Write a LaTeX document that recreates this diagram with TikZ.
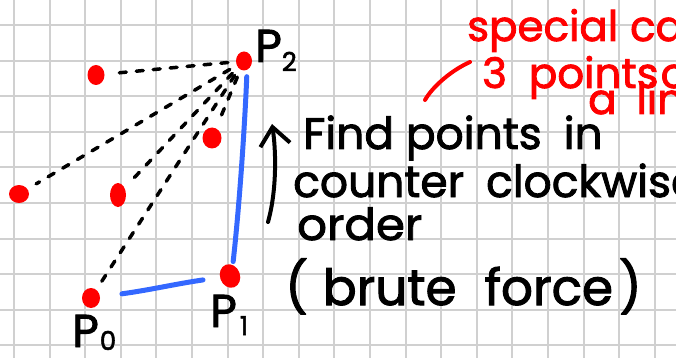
\documentclass[tikz,border=0pt]{standalone}
\usepackage{fontspec}
\setmainfont{Poppins}[FakeBold=2]
\usetikzlibrary{shapes.geometric,arrows.meta}
\definecolor{gridc}{RGB}{208,208,208}
\definecolor{penred}{RGB}{255,0,0}
\definecolor{penblue}{RGB}{52,104,255}
\tikzset{
  gridln/.style={draw=gridc,line width=2pt},
  dotnode/.style={ellipse,fill=penred,inner sep=0pt},
  dashln/.style={black,line width=3.5pt,line cap=round,dash pattern=on 7pt off 10pt,shorten <=8pt,shorten >=10pt},
  blueln/.style={penblue,line width=5pt,line cap=round},
  blk/.style={inner sep=0pt,anchor=base west,text=black,font=\fontsize{44}{44}\selectfont},
  redtxt/.style={inner sep=0pt,anchor=base west,text=penred,font=\fontsize{42}{42}\selectfont},
  plabel/.style={inner sep=0pt,anchor=base west,text=black,font=\fontsize{46}{46}\selectfont},
}
\newcommand{\subsc}[2]{\raisebox{-#2pt}{\fontsize{26}{26}\selectfont #1}}
\begin{document}
\begin{tikzpicture}[x=1pt,y=-1pt]
\useasboundingbox (0,0) rectangle (676,358);
\clip (0,0) rectangle (676,358);
\fill[white] (0,0) rectangle (676,358);
% grid
\foreach \k in {0,...,18} {\draw[gridln] ({14+35.6*\k},0) -- ({14+35.6*\k},358);}
\foreach \k in {0,...,9} {\draw[gridln] (0,{25+35.6*\k}) -- (676,{25+35.6*\k});}
% dots
\node[dotnode,minimum width=16pt,minimum height=19pt] (p2) at (244,61) {};
\node[dotnode,minimum width=17pt,minimum height=20pt] (dA) at (96,75) {};
\node[dotnode,minimum width=19pt,minimum height=21pt] (dB) at (212,138) {};
\node[dotnode,minimum width=20pt,minimum height=18pt] (dC) at (19,194) {};
\node[dotnode,minimum width=16pt,minimum height=24pt] (dD) at (118,195) {};
\node[dotnode,minimum width=18pt,minimum height=20pt] (p0) at (91,298) {};
\node[dotnode,minimum width=20pt,minimum height=24pt,rotate=20] (p1) at (230,276) {};
% dashed lines
\draw[dashln] (p2) -- (dA);
\draw[dashln] (p2) -- (dC);
\draw[dashln] (p2) -- (dD);
\draw[dashln] (p2) -- (dB);
\draw[dashln] (p2) -- (p0);
% blue lines
\draw[blueln,shorten <=22pt,shorten >=17pt] (p0) .. controls (150,290) and (175,284) .. (p1);
\draw[blueln,shorten <=3pt,shorten >=6pt] ([xshift=7pt]p1.north) .. controls (240,200) and (245,120) .. ([xshift=3pt]p2.south);
% labels
\node[plabel] (lp2) at (255,62) {P\subsc{2}{9}};
\node[plabel] (lp1) at (210,327) {P\hspace{3pt}\subsc{1}{8}};
\node[plabel] (lp0) at (72,347) {P\hspace{1pt}\subsc{0}{3}};
% arrow
\coordinate (arrS) at (268,222);
\coordinate (arrT) at (272,124);
\draw[black,line width=4pt,line cap=round,-{Straight Barb[length=18pt,width=30pt,line width=4pt]}] (arrS) .. controls (277,190) and (276,150) .. (arrT);
% black text
\node[blk] (t1) at (303,149) {Find points\hspace{22pt}in};
\node[blk] (t2) at (293,197) {counter\hspace{22pt}clockwise};
\node[blk,xscale=1.06] (t3) at (297,240) {order};
\node[blk,font=\fontsize{50}{50}\selectfont] (t4) at (285,305) {(\hspace{15pt}brute\hspace{28pt}force\hspace{6pt})};
% red text
\node[redtxt] (r1) at (467,41) {special\hspace{12pt}case};
\node[redtxt] (r2) at (482,88) {3\hspace{22pt}points\hspace{2pt}on};
\node[redtxt] (r3) at (588,114) {a\hspace{20pt}line};
\coordinate (rA) at (425,100);
\coordinate (rB) at (470,62);
\draw[penred,line width=4pt,line cap=round] (rA) .. controls (433,86) and (452,70) .. (rB);
\end{tikzpicture}
\end{document}
